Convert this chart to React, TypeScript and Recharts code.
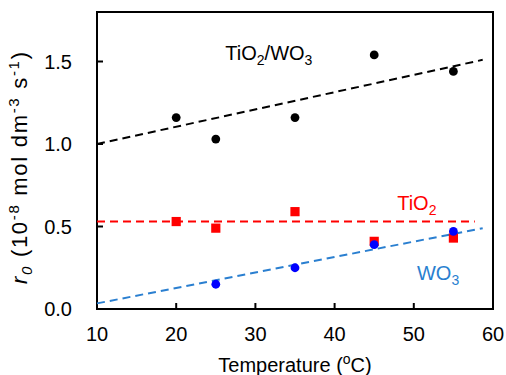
import { ScatterChart, Scatter, XAxis, YAxis, ReferenceArea, ReferenceDot } from 'recharts'

// measured points
const tiwoPts = [
  { t: 20, r: 1.16 }, { t: 25, r: 1.03 }, { t: 35, r: 1.16 }, { t: 45, r: 1.54 }, { t: 55, r: 1.44 },
]
const tio2Pts = [
  { t: 20, r: 0.53 }, { t: 25, r: 0.49 }, { t: 35, r: 0.59 }, { t: 45, r: 0.41 }, { t: 55, r: 0.43 },
]
const wo3Pts = [
  { t: 25, r: 0.15 }, { t: 35, r: 0.25 }, { t: 45, r: 0.39 }, { t: 55, r: 0.47 },
]
// fitted lines (end points)
const tiwoFit = [{ t: 10, r: 1.0 }, { t: 58.7, r: 1.51 }]
const tio2Fit = [{ t: 10, r: 0.53 }, { t: 57.7, r: 0.53 }]
const wo3Fit = [{ t: 10, r: 0.034 }, { t: 58.7, r: 0.49 }]

const xTicks = [10, 20, 30, 40, 50, 60]
const yTicks = [0, 0.5, 1.0, 1.5]

// labels: [text, 'sub' | ''] parts
const notes = [
  { t: 26.2, r: 1.51, color: '#000000', parts: [['TiO', ''], ['2', 'sub'], ['/WO', ''], ['3', 'sub']] },
  { t: 47.9, r: 0.6, color: '#ff0000', parts: [['TiO', ''], ['2', 'sub']] },
  { t: 50.4, r: 0.175, color: '#2a7fd0', parts: [['WO', ''], ['3', 'sub']] },
]

const FONT = '"Liberation Sans", Arial, sans-serif'
const dash = '8 5'

const noteShape = (n: typeof notes[number]) => (p: any) => {
  let shift = 0
  return (
    <text x={p.cx} y={p.cy} fill={n.color} fontFamily={FONT} fontSize={20}>
      {n.parts.map(([s, k], i) => {
        const dy = k === 'sub' ? 5 - shift : -shift
        shift = k === 'sub' ? 5 : 0
        return <tspan key={i} dy={dy} fontSize={k === 'sub' ? 14 : 20}>{s}</tspan>
      })}
    </text>
  )
}

const dot = (color: string) => (p: any) => <circle cx={p.cx} cy={p.cy} r={4.4} fill={color} />
const square = (color: string) => (p: any) => <rect x={p.cx - 4.6} y={p.cy - 4.6} width={9.2} height={9.2} fill={color} />

const YLabel = () => (
  <text x={27} y={168} transform="rotate(-90 27 168)" textAnchor="middle" fontFamily={FONT} fontSize={22} fill="#000"
    textLength={232} lengthAdjust="spacing">
    <tspan fontStyle="italic">r</tspan>
    <tspan fontStyle="italic" fontSize={15} dy={5}>0</tspan>
    <tspan dy={-5}> (10</tspan>
    <tspan fontSize={15} dy={-8}>-8</tspan>
    <tspan dy={8}> mol dm</tspan>
    <tspan fontSize={15} dy={-8}>-3</tspan>
    <tspan dy={8}> s</tspan>
    <tspan fontSize={15} dy={-8}>-1</tspan>
    <tspan dy={8}>)</tspan>
  </text>
)

const XLabel = () => (
  <text x={295} y={372} textAnchor="middle" fontFamily={FONT} fontSize={20} fill="#000">
    <tspan>Temperature (</tspan>
    <tspan fontSize={14} dy={-8}>o</tspan>
    <tspan dy={8}>C)</tspan>
  </text>
)

const none = () => <g />

export default function App() {
  return (
    <div style={{ position: 'absolute', left: 0, top: 0, background: '#fff' }}>
      <ScatterChart width={506} height={375} margin={{ top: 12, right: 13, bottom: 0, left: 0 }}>
        <XAxis type="number" dataKey="t" domain={[10, 60]} ticks={xTicks} height={66}
          tickSize={-6} tickMargin={24} axisLine={{ stroke: '#000', strokeWidth: 2 }}
          tickLine={{ stroke: '#000', strokeWidth: 2 }} tick={{ fill: '#000', fontSize: 20, fontFamily: FONT }}
          label={{ content: XLabel }} />
        <YAxis type="number" dataKey="r" domain={[0, 1.8]} ticks={yTicks} width={97}
          tickFormatter={(v: number) => v.toFixed(1)}
          tickSize={-6} tickMargin={31} axisLine={{ stroke: '#000', strokeWidth: 2 }}
          tickLine={{ stroke: '#000', strokeWidth: 2 }} tick={{ fill: '#000', fontSize: 20, fontFamily: FONT }}
          label={{ content: YLabel }} />
        <ReferenceArea x1={10} x2={60} y1={0} y2={1.8} fill="none" stroke="#000" strokeWidth={2} />
        <Scatter data={tiwoFit} shape={none} line={{ stroke: '#000', strokeWidth: 2, strokeDasharray: dash }} isAnimationActive={false} />
        <Scatter data={tio2Fit} shape={none} line={{ stroke: '#ff0000', strokeWidth: 2, strokeDasharray: dash }} isAnimationActive={false} />
        <Scatter data={wo3Fit} shape={none} line={{ stroke: '#2a7fd0', strokeWidth: 2, strokeDasharray: dash }} isAnimationActive={false} />
        <Scatter data={tiwoPts} fill="#000" shape={dot('#000')} isAnimationActive={false} />
        <Scatter data={tio2Pts} fill="#ff0000" shape={square('#ff0000')} isAnimationActive={false} />
        <Scatter data={wo3Pts} fill="#0000ff" shape={dot('#0000ff')} isAnimationActive={false} />
        {notes.map((n, i) => (
          <ReferenceDot key={i} x={n.t} y={n.r} r={0} shape={noteShape(n)} />
        ))}
      </ScatterChart>
    </div>
  )
}
